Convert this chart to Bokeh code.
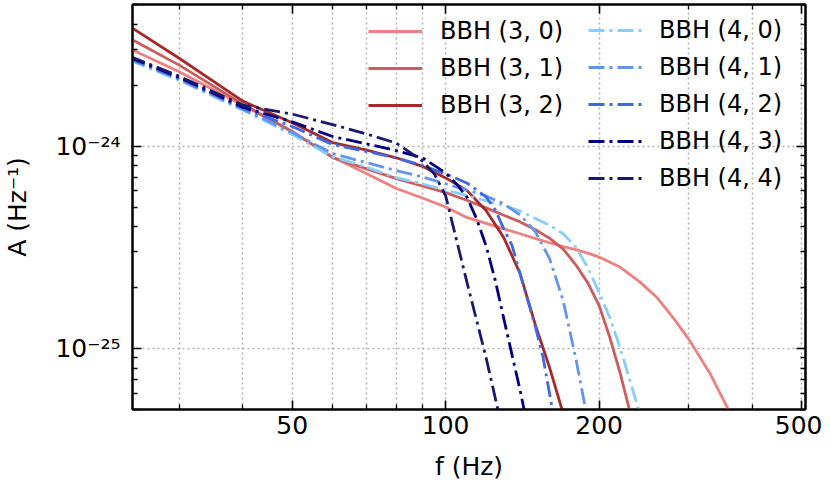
from bokeh.plotting import figure
from bokeh.models import (LogAxis, FixedTicker, NumeralTickFormatter, CustomJSTickFormatter,
                          Legend, LegendItem, Range1d)
from bokeh.embed import file_html
from bokeh.resources import INLINE
import json

# ---- data (frequency in Hz, amplitude in units of 1e-24 Hz^-1) ----
f_30 = [24, 30, 40, 50, 60, 70, 80, 90, 100, 110, 120, 130, 140, 150, 160, 170, 180, 190, 200,
        220, 240, 260, 280, 300, 330, 360, 380]
A_30 = [3.022, 2.328, 1.592, 1.175, 0.883, 0.730, 0.617, 0.554, 0.500, 0.444, 0.415, 0.390, 0.369,
        0.349, 0.333, 0.319, 0.308, 0.296, 0.283, 0.252, 0.214, 0.178, 0.141, 0.111, 0.0753, 0.0489, 0.0386]

f_31 = [24, 30, 40, 50, 60, 70, 80, 90, 100, 110, 120, 130, 140, 150, 160, 170, 180, 190, 200,
        210, 220, 230, 240]
A_31 = [3.404, 2.509, 1.610, 1.180, 0.877, 0.772, 0.690, 0.635, 0.589, 0.540, 0.495, 0.455, 0.422,
        0.386, 0.350, 0.310, 0.259, 0.211, 0.163, 0.113, 0.0753, 0.0484, 0.0314]

f_32 = [24, 30, 40, 50, 60, 70, 80, 90, 100, 110, 120, 130, 140, 150, 160, 170]
A_32 = [3.900, 2.713, 1.666, 1.302, 1.040, 0.954, 0.875, 0.794, 0.696, 0.604, 0.480, 0.353, 0.234,
        0.1304, 0.0801, 0.0478]

f_40 = [24, 30, 40, 50, 60, 70, 80, 90, 100, 110, 120, 130, 140, 150, 160, 170, 180, 190, 200,
        210, 220, 240]
A_40 = [2.652, 2.114, 1.504, 1.139, 0.886, 0.786, 0.698, 0.650, 0.607, 0.569, 0.536, 0.509, 0.478,
        0.439, 0.406, 0.369, 0.317, 0.251, 0.189, 0.142, 0.1003, 0.0484]

f_41 = [24, 30, 40, 50, 60, 70, 80, 90, 100, 110, 120, 130, 140, 150, 160, 170, 180, 190]
A_41 = [2.683, 2.138, 1.521, 1.167, 0.918, 0.827, 0.756, 0.704, 0.650, 0.607, 0.567, 0.518, 0.457,
        0.377, 0.277, 0.1724, 0.0893, 0.0442]

f_42 = [24, 30, 40, 50, 60, 70, 80, 90, 100, 110, 120, 125, 130, 135, 140, 145, 150, 155, 160, 170]
A_42 = [2.713, 2.163, 1.539, 1.248, 1.018, 0.939, 0.875, 0.801, 0.728, 0.657, 0.561, 0.486, 0.390,
        0.322, 0.233, 0.172, 0.1275, 0.0923, 0.0593, 0.0251]

f_43 = [24, 30, 40, 50, 60, 70, 80, 90, 100, 105, 110, 115, 120, 125, 130, 140, 150]
A_43 = [2.744, 2.188, 1.556, 1.317, 1.114, 1.024, 0.949, 0.876, 0.736, 0.650, 0.561, 0.437, 0.322,
        0.219, 0.1405, 0.0621, 0.0265]

f_44 = [24, 30, 40, 50, 60, 70, 80, 90, 95, 100, 105, 110, 120, 130]
A_44 = [2.776, 2.212, 1.592, 1.438, 1.276, 1.146, 1.035, 0.844, 0.728, 0.567, 0.344, 0.214, 0.0903, 0.0373]

series_labels = ["BBH (3, 0)", "BBH (3, 1)", "BBH (3, 2)",
                 "BBH (4, 0)", "BBH (4, 1)", "BBH (4, 2)", "BBH (4, 3)", "BBH (4, 4)"]
series_f = [f_30, f_31, f_32, f_40, f_41, f_42, f_43, f_44]
series_A = [A_30, A_31, A_32, A_40, A_41, A_42, A_43, A_44]
series_colors = ["#F08080", "#CD5C5C", "#A52A2A",
                 "#87CEFA", "#6495ED", "#4169E1", "#000080", "#191970"]

x_major = [50, 100, 200, 500]
x_minor = [30, 40, 60, 70, 80, 90, 300, 400]
y_major = [1e-25, 1e-24]
y_minor = [2e-26, 3e-26, 4e-26, 5e-26, 6e-26, 7e-26, 8e-26, 9e-26,
           2e-25, 3e-25, 4e-25, 5e-25, 6e-25, 7e-25, 8e-25, 9e-25,
           2e-24, 3e-24, 4e-24, 5e-24]
y_tick_text = {"-25": "10\u207b\u00b2\u2075", "-24": "10\u207b\u00b2\u2074"}

UNIT = 1e-24
FONT = "DejaVu Sans"

p = figure(width=822, height=484, x_axis_type="log", y_axis_type="log",
           x_range=Range1d(24.3, 508), y_range=Range1d(5e-26, 5e-24),
           output_backend="svg", toolbar_location=None,
           min_border_left=132, min_border_right=17, min_border_top=4, min_border_bottom=75)
p.outline_line_color = "black"
p.outline_line_width = 2
p.background_fill_color = "white"

renderers = []
for i, (fs, As) in enumerate(zip(series_f, series_A)):
    ys = [a * UNIT for a in As]
    dash = "solid" if i < 3 else "16 5 3 5"
    r = p.line(fs, ys, line_color=series_colors[i], line_width=2.8, line_dash=dash)
    renderers.append(r)

xticker = FixedTicker(ticks=x_major, minor_ticks=x_minor)
yticker = FixedTicker(ticks=y_major, minor_ticks=y_minor)

yfmt_code = ("const m = %s; const k = String(Math.round(Math.log10(tick))); "
             "return (k in m) ? m[k] : '';") % json.dumps(y_tick_text)

def style_axis(ax):
    ax.axis_line_color = "black"
    ax.axis_line_width = 2
    ax.major_tick_in = 9
    ax.major_tick_out = 0
    ax.minor_tick_in = 5
    ax.minor_tick_out = 0
    ax.major_tick_line_color = "black"
    ax.minor_tick_line_color = "black"
    ax.major_tick_line_width = 1.6
    ax.minor_tick_line_width = 1.3
    ax.major_label_text_font = FONT
    ax.major_label_text_font_size = "25px"
    ax.major_label_text_color = "black"
    ax.axis_label_text_font = FONT
    ax.axis_label_text_font_size = "25px"
    ax.axis_label_text_font_style = "normal"
    ax.axis_label_text_color = "black"

xa = p.xaxis[0]
xa.ticker = xticker
xa.formatter = NumeralTickFormatter(format="0")
xa.axis_label = "f (Hz)"
style_axis(xa)
xa.major_label_standoff = 6
xa.axis_label_standoff = 15

ya = p.yaxis[0]
ya.ticker = yticker
ya.formatter = CustomJSTickFormatter(code=yfmt_code)
ya.axis_label = "A (Hz\u207b\u00b9)"
style_axis(ya)
ya.major_label_standoff = 12
ya.axis_label_standoff = 20

blank = "return '';"
top = LogAxis(ticker=xticker, formatter=CustomJSTickFormatter(code=blank))
style_axis(top)
top.major_label_standoff = 0
right = LogAxis(ticker=yticker, formatter=CustomJSTickFormatter(code=blank))
style_axis(right)
right.major_label_standoff = 0
p.add_layout(top, "above")
p.add_layout(right, "right")

p.xgrid.ticker = FixedTicker(ticks=sorted(x_major + x_minor))
p.ygrid.ticker = FixedTicker(ticks=y_major)
for g in (p.xgrid[0], p.ygrid[0]):
    g.grid_line_color = "#b0b0b0"
    g.grid_line_width = 1.5
    g.grid_line_dash = "2 3"

def make_legend(items, loc, standoff):
    lg = Legend(items=items, location=loc, orientation="vertical")
    lg.label_text_font = FONT
    lg.label_text_font_size = "24px"
    lg.label_text_color = "black"
    lg.glyph_width = 54
    lg.glyph_height = 30
    lg.label_height = 30
    lg.label_standoff = standoff
    lg.spacing = 7
    lg.padding = 0
    lg.margin = 0
    lg.border_line_color = None
    lg.background_fill_alpha = 0
    return lg

leg1 = make_legend([LegendItem(label=series_labels[i], renderers=[renderers[i]]) for i in range(3)],
                   (236, 289), 18)
leg2 = make_legend([LegendItem(label=series_labels[i], renderers=[renderers[i]]) for i in range(3, 8)],
                   (456, 216), 17)
p.add_layout(leg1, "center")
p.add_layout(leg2, "center")

open("out.html", "w").write(file_html(p, INLINE))
